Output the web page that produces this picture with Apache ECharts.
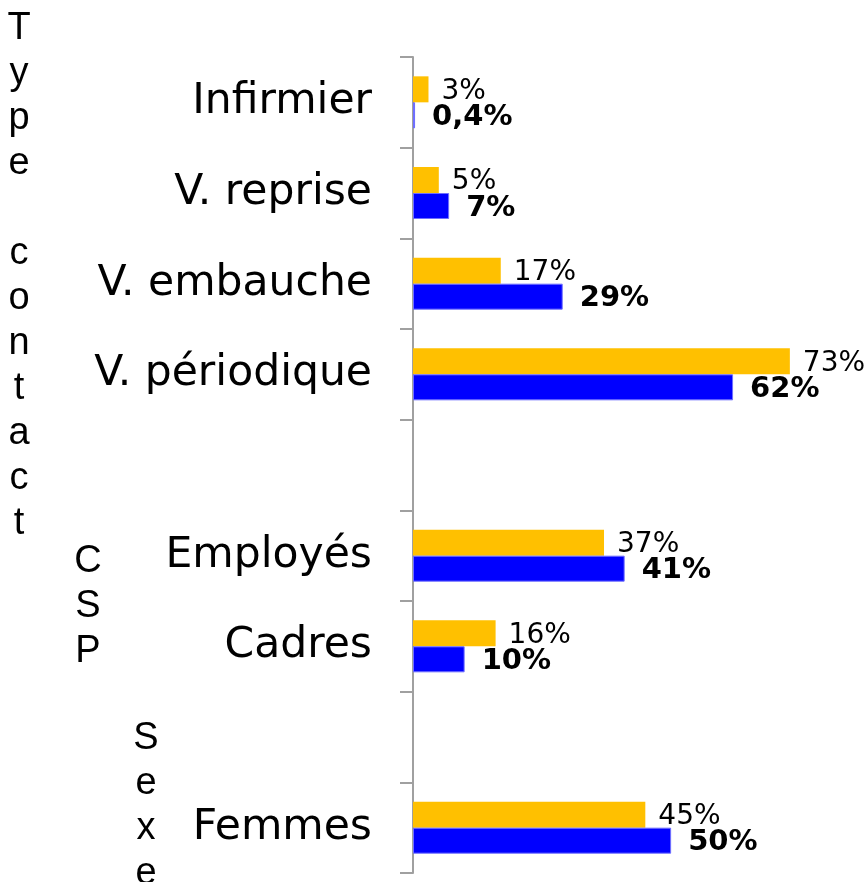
<!DOCTYPE html>
<html lang="fr" style="height: 100%">
<head>
    <meta charset="utf-8">
</head>
<body style="height: 100%; margin: 0">
<div id="main" style="width: 866px; height: 882px"></div>
<script src="https://cdn.jsdelivr.net/npm/echarts@6/dist/echarts.min.js"></script>
<script type="text/javascript">
    // categories (top to bottom), blanks separate the groups
    var categories = ['Infirmier', 'V. reprise', 'V. embauche', 'V. périodique', ' ', 'Employés', 'Cadres', '  ', 'Femmes'];
    // orange series (regular labels)
    var valuesA = [3, 5, 17, 73, null, 37, 16, null, 45];
    // blue series (bold labels)
    var valuesB = [0.4, 7, 29, 62, null, 41, 10, null, 50];
    // group names written vertically on the left
    var groupNames = ['Type contact', 'CSP', 'Sexe'];

    // one letter per line, a space gives an empty line
    function vertical(s) {
        return s.split('').join('\n');
    }

    function pct(p) {
        return String(p.value).replace('.', ',') + '%';
    }

    var chart = echarts.init(document.getElementById('main'));

    chart.setOption({
        animation: false,
        grid: {
            left: 413,
            right: 40,
            top: 57,
            bottom: 9
        },
        xAxis: {
            type: 'value',
            min: 0,
            max: 80,
            show: false
        },
        yAxis: {
            type: 'category',
            inverse: true,
            data: categories,
            axisLine: {
                show: true,
                lineStyle: {color: '#a0a0a0', width: 2}
            },
            axisTick: {
                show: true,
                alignWithLabel: false,
                length: 13,
                lineStyle: {color: '#a0a0a0', width: 2}
            },
            axisLabel: {
                margin: 41,
                fontSize: 42.5,
                fontFamily: 'DejaVu Sans',
                color: '#000'
            }
        },
        series: [{
            type: 'bar',
            data: valuesA,
            barWidth: 26,
            barGap: '0%',
            itemStyle: {color: '#FFC000'},
            label: {
                show: true,
                position: 'right',
                distance: 13,
                offset: [0, 2],
                formatter: pct,
                fontSize: 28,
                fontFamily: 'DejaVu Sans',
                color: '#000'
            }
        }, {
            type: 'bar',
            data: valuesB,
            barWidth: 26,
            barGap: '0%',
            itemStyle: {color: '#0000FF', borderColor: '#6f6fff', borderWidth: 1},
            label: {
                show: true,
                position: 'right',
                distance: 17,
                offset: [0, 2],
                formatter: pct,
                fontSize: 29,
                fontWeight: 'bold',
                fontFamily: 'DejaVu Sans',
                color: '#000'
            }
        }],
        graphic: [{
            type: 'text',
            x: 19,
            y: 6,
            style: {
                text: vertical(groupNames[0]),
                font: '38px "Liberation Sans"',
                lineHeight: 45,
                textAlign: 'center',
                textVerticalAlign: 'top',
                fill: '#000'
            }
        }, {
            type: 'text',
            x: 88,
            y: 539,
            style: {
                text: vertical(groupNames[1]),
                font: '38px "Liberation Sans"',
                lineHeight: 45,
                textAlign: 'center',
                textVerticalAlign: 'top',
                fill: '#000'
            }
        }, {
            type: 'text',
            x: 146,
            y: 716,
            style: {
                text: vertical(groupNames[2]),
                font: '38px "Liberation Sans"',
                lineHeight: 45,
                textAlign: 'center',
                textVerticalAlign: 'top',
                fill: '#000'
            }
        }]
    });
</script>
</body>
</html>
